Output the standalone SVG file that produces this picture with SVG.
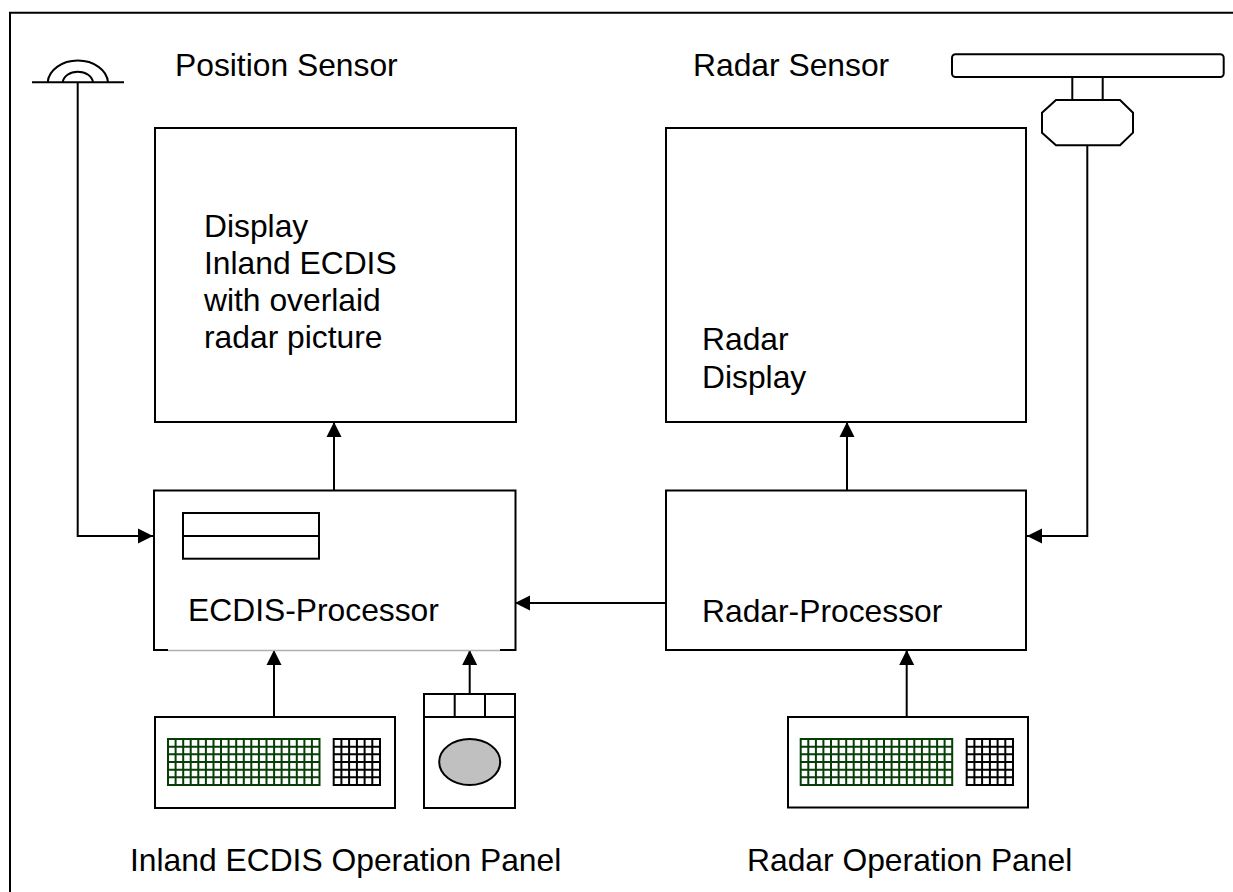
<svg xmlns="http://www.w3.org/2000/svg" width="1233" height="892" viewBox="0 0 1233 892">
<style>
.s{fill:none;stroke:#000;stroke-width:2}
.w{fill:#fff;stroke:#000;stroke-width:2}
.c{fill:none;stroke:#000;stroke-width:2}
.g{fill:none;stroke:#063f06;stroke-width:2}
.k{fill:none;stroke:#000;stroke-width:2}
text{font-family:"Liberation Sans",Arial,sans-serif;font-size:31.8px;fill:#000}
</style>
<defs>
<marker id="a" markerUnits="userSpaceOnUse" markerWidth="16" markerHeight="16" refX="15" refY="8" orient="auto"><path d="M0 0.5L15 8L0 15.5Z" fill="#000"/></marker>
<path id="kb" d="M168 739H319.5V785H168ZM168 746.7H319.5M168 754.3H319.5M168 762H319.5M168 769.7H319.5M168 777.3H319.5M175.6 739V785M183.2 739V785M190.7 739V785M198.3 739V785M205.9 739V785M213.5 739V785M221 739V785M228.6 739V785M236.2 739V785M243.8 739V785M251.3 739V785M258.9 739V785M266.5 739V785M274.1 739V785M281.6 739V785M289.2 739V785M296.8 739V785M304.4 739V785M311.9 739V785"/>
<path id="kn" d="M333.7 739H380V785H333.7ZM333.7 746.7H380M333.7 754.3H380M333.7 762H380M333.7 769.7H380M333.7 777.3H380M341.4 739V785M349.1 739V785M356.9 739V785M364.6 739V785M372.3 739V785"/>
</defs>
<rect x="0" y="0" width="1233" height="892" fill="#fff"/>
<path id="frame" class="s" d="M10 892V12.7H1233"/>
<g id="connectors">
<path class="c" d="M77.7 82V536H153" marker-end="url(#a)"/>
<path class="c" d="M1087.3 145V536H1027" marker-end="url(#a)"/>
<path class="c" d="M334 490V422" marker-end="url(#a)"/>
<path class="c" d="M847 490V422" marker-end="url(#a)"/>
<path class="c" d="M666 603H515" marker-end="url(#a)"/>
<path class="c" d="M274 717V650" marker-end="url(#a)"/>
<path class="c" d="M469.7 694V650" marker-end="url(#a)"/>
<path class="c" d="M906.7 717V650" marker-end="url(#a)"/>
</g>
<g id="position-antenna">
<path class="s" d="M32 82.3H124M47.7 82.3A30.2 23 0 0 1 108 82.3M62.7 82.3A15.2 11.6 0 0 1 93 82.3"/>
</g>
<g id="position-label"><text x="175" y="76">Position Sensor</text></g>
<g id="radar-label"><text x="693" y="76">Radar Sensor</text></g>
<g id="radar-antenna">
<rect class="s" x="952" y="54.3" width="271.7" height="22.7" rx="3.5"/>
<path class="s" d="M1072.3 77V100M1102.7 77V100"/>
<path class="w" d="M1056 100H1120L1133 112.7V132.7L1120 145.3H1056L1042 132.7V112.7Z"/>
</g>
<g id="ecdis-display">
<rect class="s" x="155" y="128" width="361" height="294"/>
<text x="204" y="237">Display</text>
<text x="204" y="274">Inland ECDIS</text>
<text x="204" y="311">with overlaid</text>
<text x="204" y="348">radar picture</text>
</g>
<g id="radar-display">
<rect class="s" x="666" y="128" width="360" height="294"/>
<text x="702" y="350">Radar</text>
<text x="702" y="388">Display</text>
</g>
<g id="ecdis-processor">
<path class="s" d="M168 650H154V490.5H515.5V650H500"/>
<path fill="none" stroke="#b0b0b0" stroke-width="1.5" d="M168 650.5H500"/>
<rect class="s" x="183" y="513" width="136" height="45.7"/>
<path class="s" d="M183 536H319"/>
<text x="188" y="621">ECDIS-Processor</text>
</g>
<g id="radar-processor">
<rect class="s" x="666" y="490.5" width="360" height="159.5"/>
<text x="702" y="622">Radar-Processor</text>
</g>
<g id="ecdis-keyboard">
<rect class="s" x="155" y="717" width="240" height="91"/>
<use href="#kb" class="g"/>
<use href="#kn" class="k"/>
</g>
<g id="trackball">
<rect class="s" x="424" y="694" width="91" height="114"/>
<path class="s" d="M424 717H515M454.7 694V717M485 694V717"/>
<ellipse cx="469.7" cy="762" rx="30.5" ry="23" fill="#c0c0c0" stroke="#000" stroke-width="2"/>
</g>
<g id="radar-keyboard">
<rect class="s" x="788" y="717" width="240" height="90.5"/>
<use href="#kb" class="g" x="632.7"/>
<use href="#kn" class="k" x="633"/>
</g>
<g id="ecdis-panel-label"><text x="130" y="871">Inland ECDIS Operation Panel</text></g>
<g id="radar-panel-label"><text x="747" y="871">Radar Operation Panel</text></g>
</svg>
